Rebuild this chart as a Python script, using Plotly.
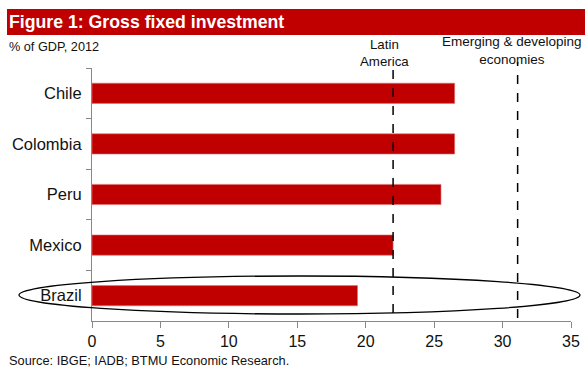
import plotly.graph_objects as go

countries = ["Chile", "Colombia", "Peru", "Mexico", "Brazil"]
investment = [26.5, 26.5, 25.5, 22.0, 19.4]
ref_names = ["Latin<br>America", "Emerging & developing<br>economies"]
ref_values = [22.0, 31.1]
x_ticks = [0, 5, 10, 15, 20, 25, 30, 35]

FONT = "Liberation Sans, Arial, sans-serif"
W, H = 585, 367
L, R, T, B = 92, 14, 68, 46
PW, PH = W - L - R, H - T - B

def px(x):
    return (x - L) / PW

def py(y):
    return (H - B - y) / PH

fig = go.Figure()
fig.add_trace(go.Bar(
    y=countries, x=investment, orientation="h", width=0.4,
    marker=dict(color="#C00000", line=dict(color="#E07070", width=0.6)),
    showlegend=False, hoverinfo="x+y",
))

shapes = [
    dict(type="rect", xref="paper", yref="paper", x0=px(7), x1=px(590),
         y0=py(35), y1=py(9), fillcolor="#C00000", line=dict(width=0), layer="below"),
    dict(type="line", xref="x", yref="paper", x0=ref_values[0], x1=ref_values[0],
         y0=py(313), y1=py(62), line=dict(color="black", width=1.5, dash="dash")),
    dict(type="line", xref="x", yref="paper", x0=ref_values[1], x1=ref_values[1],
         y0=py(318), y1=py(62), line=dict(color="black", width=1.5, dash="dash")),
    dict(type="circle", xref="paper", yref="paper", x0=px(19), x1=px(580),
         y0=py(314), y1=py(276), line=dict(color="black", width=1.3)),
]

annotations = [
    dict(text="<b>Figure 1: Gross fixed investment</b>", xref="paper", yref="paper",
         x=px(7), y=py(22), xanchor="left", yanchor="middle", showarrow=False,
         font=dict(family=FONT, size=17.7, color="white")),
    dict(text="% of GDP, 2012", xref="paper", yref="paper", x=px(7), y=py(47),
         xanchor="left", yanchor="middle", showarrow=False,
         font=dict(family=FONT, size=12.7, color="#111")),
    dict(text=ref_names[0], xref="x", yref="paper", x=21.4, y=py(53),
         xanchor="center", yanchor="middle", showarrow=False,
         font=dict(family=FONT, size=13.3, color="#111")),
    dict(text=ref_names[1], xref="x", yref="paper", x=30.7, y=py(51),
         xanchor="center", yanchor="middle", showarrow=False,
         font=dict(family=FONT, size=13.5, color="#111")),
    dict(text="Source: IBGE; IADB; BTMU Economic Research.", xref="paper", yref="paper",
         x=px(7), y=py(360), xanchor="left", yanchor="middle", showarrow=False,
         font=dict(family=FONT, size=12.8, color="#111")),
]

fig.update_layout(
    width=W, height=H, margin=dict(l=L, r=R, t=T, b=B, autoexpand=False),
    paper_bgcolor="white", plot_bgcolor="white",
    shapes=shapes, annotations=annotations, bargap=0.6,
    font=dict(family=FONT, color="#111"),
)
fig.update_xaxes(range=[0, 35], tickvals=x_ticks, showgrid=False, zeroline=False,
                 showline=True, linecolor="#888", linewidth=1.2, ticks="outside",
                 ticklen=6, tickcolor="#888", automargin=False,
                 tickfont=dict(size=16, family=FONT, color="#111"))
fig.update_yaxes(autorange="reversed", type="category", showgrid=False, zeroline=False,
                 showline=True, linecolor="#888", linewidth=1.2, ticks="outside",
                 tickson="boundaries", ticklen=5, tickcolor="#888", automargin=False,
                 tickfont=dict(size=16.5, family=FONT, color="#111"), ticklabelstandoff=6)

fig.write_html("out.html")
